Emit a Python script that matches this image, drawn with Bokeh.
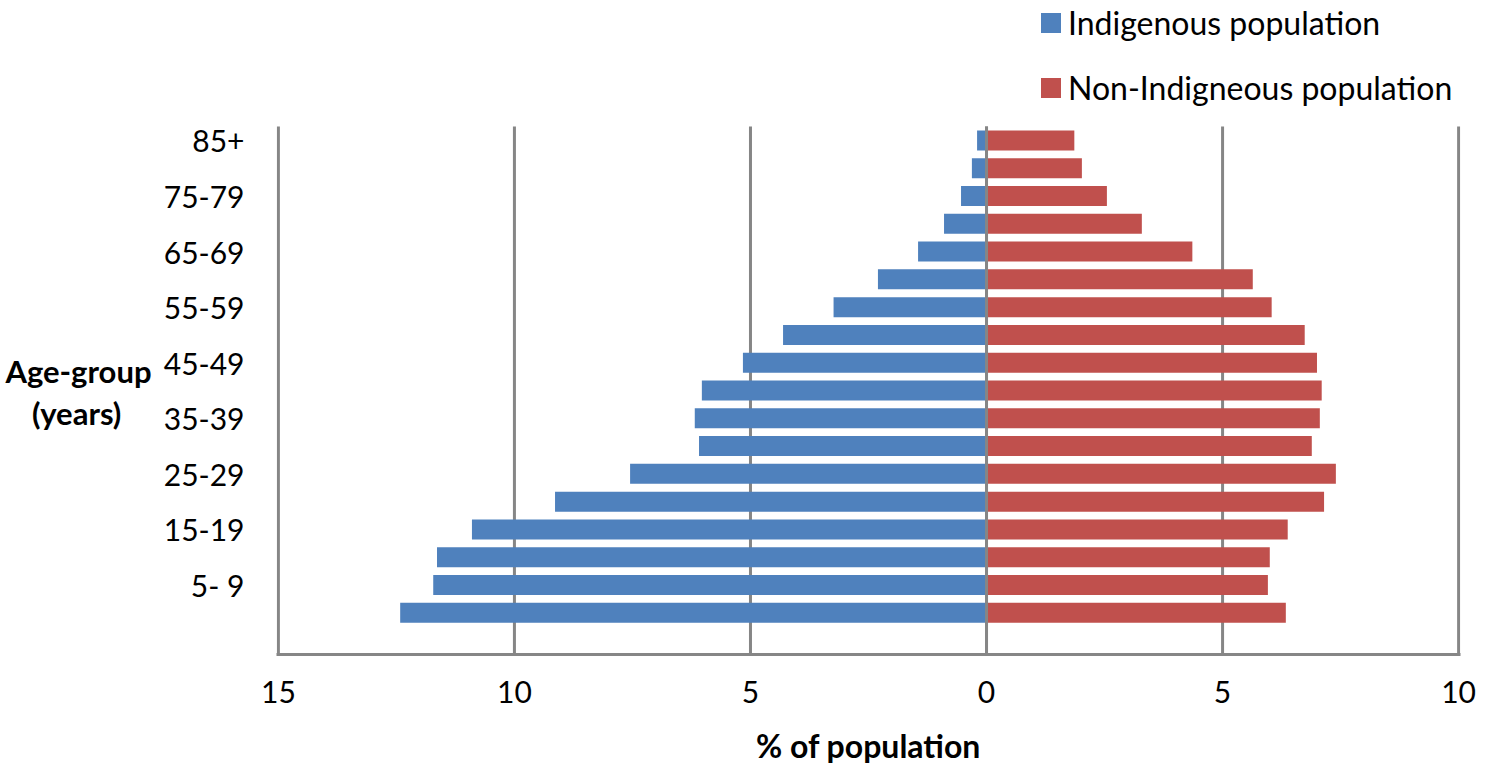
from bokeh.plotting import figure
from bokeh.models import (Range1d, FixedTicker, Legend, LegendItem,
                          ColumnDataSource, LinearAxis)
from bokeh.embed import file_html
from bokeh.resources import INLINE

# ---------------- data ----------------
age_groups = ["0- 4", "5- 9", "10-14", "15-19", "20-24", "25-29", "30-34", "35-39",
              "40-44", "45-49", "50-54", "55-59", "60-64", "65-69", "70-74", "75-79",
              "80-84", "85+"]
indigenous = [12.42, 11.72, 11.64, 10.90, 9.14, 7.55, 6.09, 6.18, 6.03, 5.16,
              4.31, 3.24, 2.30, 1.45, 0.90, 0.54, 0.31, 0.20]
non_indigenous = [6.34, 5.96, 6.00, 6.38, 7.15, 7.40, 6.89, 7.06, 7.10, 7.00,
                  6.74, 6.04, 5.64, 4.36, 3.29, 2.55, 2.02, 1.86]
y_tick_labels = ["5- 9", "15-19", "25-29", "35-39", "45-49", "55-59", "65-69",
                 "75-79", "85+"]
x_ticks = [-15, -10, -5, 0, 5, 10]
x_tick_labels = ["15", "10", "5", "0", "5", "10"]
series_names = ["Indigenous population", "Non-Indigneous population"]
x_title = "% of population"
y_title_lines = ["Age-group", "(years)"]

BLUE = "#4F81BD"
RED = "#C0504D"
GRID = "#868686"
FONT = "Lato"

n = len(age_groups)
pos = list(range(1, n + 1))
src = ColumnDataSource(dict(pos=pos, age=age_groups,
                            ind_left=[-v for v in indigenous],
                            non=non_indigenous))

# plot area: slots of equal height, one empty slot at the bottom; the frame is
# extended upward so that the legend sits inside it
SLOT_PX = 528 / (n + 1)
FRAME_H = 654
y_lo = -0.5
y_top_cat = n + 0.5
y_hi = y_lo + FRAME_H / SLOT_PX

p = figure(frame_width=1184, frame_height=FRAME_H,
           min_border_left=276, min_border_right=24,
           min_border_top=0, min_border_bottom=108,
           x_range=Range1d(-15.04, 10.04), y_range=Range1d(y_lo, y_hi),
           output_backend="svg", toolbar_location=None)
p.outline_line_color = None
p.background_fill_color = "white"
p.border_fill_color = "white"
p.xgrid.visible = False
p.ygrid.visible = False

# vertical gridlines limited to the category area
grid_src = ColumnDataSource(dict(x=x_ticks, y0=[y_lo] * len(x_ticks),
                                 y1=[y_top_cat] * len(x_ticks)))
p.segment(x0="x", x1="x", y0="y0", y1="y1", source=grid_src,
          line_color=GRID, line_width=3)

r1 = p.hbar(y="pos", left="ind_left", right=0, height=0.72,
            fill_color=BLUE, line_color=None, source=src)
r2 = p.hbar(y="pos", left=0, right="non", height=0.72,
            fill_color=RED, line_color=None, source=src)

# vertical axis line at 0 drawn on top of bars
zero_src = ColumnDataSource(dict(x=[0], y0=[y_lo], y1=[y_top_cat]))
p.segment(x0="x", x1="x", y0="y0", y1="y1", source=zero_src,
          line_color=GRID, line_width=3)

# x axis
p.xaxis.ticker = FixedTicker(ticks=x_ticks)
p.xaxis.major_label_overrides = {t: l for t, l in zip(x_ticks, x_tick_labels)}
p.xaxis.axis_line_color = GRID
p.xaxis.axis_line_width = 3
p.xaxis.major_tick_line_color = None
p.xaxis.minor_tick_line_color = None
p.xaxis.major_tick_out = 0
p.xaxis.minor_tick_out = 0
p.xaxis.major_label_text_font = FONT
p.xaxis.major_label_text_font_size = "30px"
p.xaxis.major_label_text_color = "black"
p.xaxis.major_label_standoff = 26
p.xaxis.axis_label = x_title
p.xaxis.axis_label_text_font = FONT
p.xaxis.axis_label_text_font_size = "32px"
p.xaxis.axis_label_text_font_style = "bold"
p.xaxis.axis_label_text_color = "black"
p.xaxis.axis_label_standoff = 20

# y axis
y_tick_pos = [age_groups.index(l) + 1 for l in y_tick_labels]
p.yaxis.ticker = FixedTicker(ticks=y_tick_pos)
p.yaxis.major_label_overrides = {t: l for t, l in zip(y_tick_pos, y_tick_labels)}
p.yaxis.axis_line_color = None
p.yaxis.major_tick_line_color = None
p.yaxis.minor_tick_line_color = None
p.yaxis.major_tick_out = 0
p.yaxis.minor_tick_out = 0
p.yaxis.major_label_text_font = FONT
p.yaxis.major_label_text_font_size = "30px"
p.yaxis.major_label_text_color = "black"
p.yaxis.major_label_standoff = 32

# y-axis title: horizontal two-line text carried by an extra left axis
# (second line padded with no-break spaces so it sits centred under the first)
y_title = y_title_lines[0] + "\n" + y_title_lines[1] + "\u00a0" * 4
title_pos = [8.946]
title_axis = LinearAxis(ticker=FixedTicker(ticks=title_pos),
                        major_label_overrides={title_pos[0]: y_title},
                        axis_line_color=None, major_tick_line_color=None,
                        minor_tick_line_color=None, major_tick_out=0, minor_tick_out=0,
                        major_label_text_font=FONT, major_label_text_font_size="31px",
                        major_label_text_font_style="bold",
                        major_label_text_line_height=1.1,
                        major_label_text_color="black", major_label_standoff=9)
p.add_layout(title_axis, "left")

# legend (inside the extended frame, above the bars)
legend = Legend(items=[LegendItem(label=series_names[0], renderers=[r1]),
                       LegendItem(label=series_names[1], renderers=[r2])],
                location=(762, 547), orientation="vertical",
                glyph_width=25, glyph_height=25, label_standoff=5,
                label_text_font=FONT, label_text_font_size="32px",
                label_text_color="black", spacing=26, padding=0, margin=0,
                border_line_color=None, background_fill_alpha=0)
p.add_layout(legend, "center")

open("out.html", "w").write(file_html(p, INLINE))
